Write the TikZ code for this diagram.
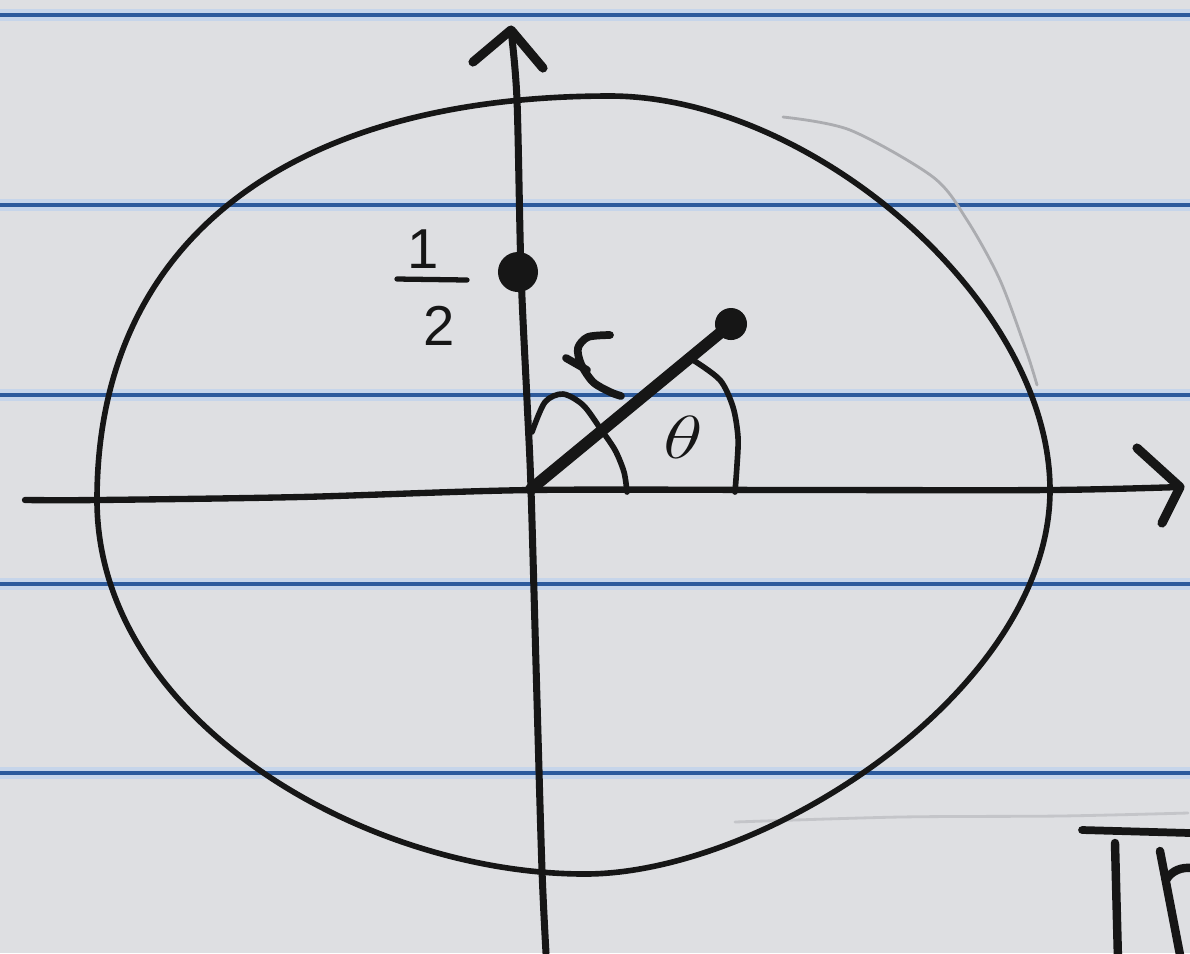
\documentclass[tikz,border=0pt]{standalone}
\usepackage{graphicx}
\usepackage{fontspec}
\newfontfamily\handfont{Liberation Sans}
\definecolor{paper}{HTML}{DEDFE2}
\definecolor{rulecol}{HTML}{2C5A9C}
\definecolor{rulehalo}{HTML}{C6D5EA}
\definecolor{ink}{HTML}{161616}
\definecolor{ghost}{HTML}{ABACB0}
\definecolor{ghostlight}{HTML}{C4C5C9}
\begin{document}
\begin{tikzpicture}[x=0.01cm,y=-0.01cm,
  inkline/.style={draw=ink,line cap=round,line join=round},
  rulehaloline/.style={draw=rulehalo,line width=3.2pt},
  ruleline/.style={draw=rulecol,line width=1.4pt},
  labeltext/.style={inner sep=0pt,text=ink}]
\fill[paper] (0,0) rectangle (1190,953);
\useasboundingbox (0,0) rectangle (1190,953);
% ruled lines
\foreach \yy in {15,205,395,584,773}{
  \draw[rulehaloline] (0,\yy) -- (1190,\yy);
  \draw[ruleline] (0,\yy) -- (1190,\yy);
}
% ghost marks
\draw[ghost,line width=0.8pt,line cap=round] plot[smooth] coordinates {(783,117) (850,130) (933,177) (967,220) (1000,280) (1027,353) (1037,385)};
\draw[ghostlight,line width=0.8pt,line cap=round] plot[smooth] coordinates {(735,822) (900,817) (1060,816) (1188,813)};
% the closed curve
\coordinate (ctop) at (610,96);
\coordinate (cright) at (1050,490);
\coordinate (cbottom) at (585,874);
\coordinate (cleft) at (97,500);
\draw[inkline,line width=1.6pt]
  (ctop) .. controls (810,96) and (1050,300) .. (cright)
         .. controls (1050,690) and (765,874) .. (cbottom)
         .. controls (365,874) and (97,720) .. (cleft)
         .. controls (97,240) and (290,96) .. (ctop) -- cycle;
% axes
\coordinate (ytip) at (511,30);
\coordinate (xtip) at (1180,487);
\coordinate (o) at (531,489);
\draw[inkline,line width=2pt] plot[smooth] coordinates {(546,953) (542,870) (537,700) (531,489) (527,400) (521,272) (517,100) (511,30)};
\draw[inkline,line width=2.6pt] (473,62) -- (ytip) -- (543,68);
\draw[inkline,line width=1.8pt] plot[smooth] coordinates {(25,500) (97,500) (300,497) (531,490) (800,490) (1050,490) (1180,487)};
\draw[inkline,line width=2.6pt] (1137,448) -- (xtip) -- (1162,523);
% point 1/2
\coordinate (half) at (518,272);
\fill[ink] (half) circle (0.2cm);
\node[labeltext,font=\handfont\fontsize{16}{16}\selectfont] (one) at (423,249) {1};
\node[labeltext,font=\handfont\fontsize{16}{16}\selectfont] (two) at (439,326) {2};
\draw[inkline,line width=1.5pt] (397,279) -- (467,280);
% ray and end point
\coordinate (p) at (731,324);
\draw[inkline,line width=3.3pt] (o) -- (p);
\fill[ink] (p) circle (0.16cm);
% angle arcs
\draw[inkline,line width=1.6pt] plot[smooth] coordinates {(693,360) (720,380) (733,407) (738,437) (737,465) (735,492)};
\draw[inkline,line width=1.6pt] plot[smooth] coordinates {(532,432) (545,402) (563,394) (583,405) (600,428) (615,450) (624,472) (627,492)};
% rotation hook
\draw[inkline,line width=2.2pt] plot[smooth] coordinates {(610,335) (588,337) (578,348) (581,364) (593,382) (610,392) (621,396)};
\draw[inkline,line width=2.2pt] (566,358) -- (587,370);
% theta
\node[labeltext,font=\fontsize{19}{19}\selectfont] (theta) at (683,437) {\scalebox{1.35}[1]{$\theta$}};
% fragment at lower right
\draw[inkline,line width=2.2pt] (1082,830) -- (1190,833);
\draw[inkline,line width=2.4pt] (1115,843) -- (1118,960);
\draw[inkline,line width=2.4pt] (1160,851) -- (1181,960);
\draw[inkline,line width=2.4pt] (1166,880) .. controls (1172,870) and (1182,867) .. (1192,868);
\end{tikzpicture}
\end{document}
